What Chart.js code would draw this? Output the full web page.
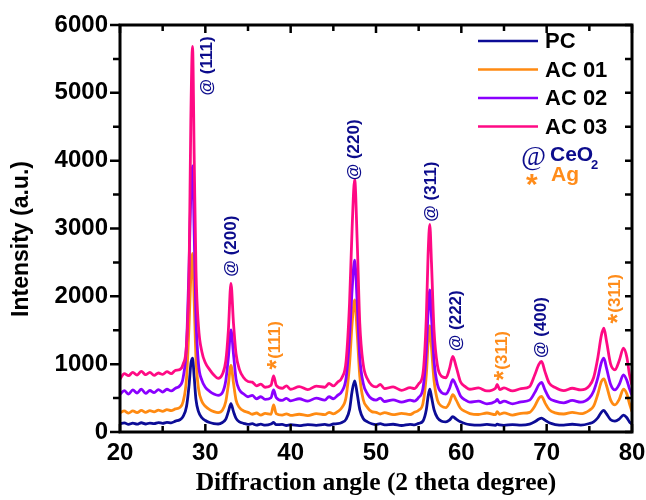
<!DOCTYPE html>
<html>
<head>
<meta charset="utf-8">
<script src="https://cdn.jsdelivr.net/npm/chart.js@4.4.1/dist/chart.umd.min.js"></script>
<style>
  body { margin: 0; background: #fff; }
  canvas { display: block; }
</style>
</head>
<body>
<canvas id="xrd" width="646" height="500"></canvas>
<script>
// 2 theta positions (degree)
const twoTheta = [
  20, 20.5, 21, 21.5, 22, 22.5, 23, 23.5, 24, 24.5,
  25, 25.5, 26, 26.5, 27, 27.4, 27.8, 28.1, 28.3, 28.5,
  28.7, 28.9, 29.2, 29.6, 30, 30.5, 31, 31.5, 32, 32.4,
  32.7, 33, 33.3, 33.6, 34, 34.5, 35, 35.5, 36, 36.5,
  37, 37.7, 38, 38.3, 39, 39.5, 40, 41, 42, 43,
  44, 44.5, 45, 45.5, 46, 46.5, 46.9, 47.2, 47.5, 47.8,
  48.1, 48.5, 49, 49.5, 50, 50.5, 51, 52, 53, 54,
  54.5, 55, 55.5, 55.9, 56.1, 56.3, 56.5, 56.8, 57.2, 57.7,
  58.2, 58.6, 59, 59.4, 59.9, 60.5, 61, 62, 63, 64,
  64.2, 64.5, 65, 66, 67, 68, 68.6, 69.1, 69.4, 69.8,
  70.3, 71, 72, 73, 74, 75, 75.5, 76, 76.4, 76.7,
  77, 77.5, 78, 78.5, 79, 79.4, 79.7, 80
];

const pcData = [
  120, 135, 112, 130, 115, 136, 118, 132, 122, 138,
  128, 142, 135, 160, 180, 230, 380, 700, 1000, 1088,
  800, 480, 300, 210, 170, 140, 125, 118, 140, 190,
  300, 417, 300, 200, 150, 128, 112, 122, 102, 115,
  100, 118, 140, 108, 112, 96, 108, 94, 110, 98,
  112, 100, 118, 122, 140, 190, 330, 600, 755, 560,
  330, 200, 150, 122, 110, 122, 104, 114, 96, 112,
  104, 128, 160, 330, 520, 632, 520, 330, 210, 160,
  150, 175, 225, 190, 150, 122, 110, 100, 112, 98,
  115, 104, 98, 110, 100, 116, 150, 190, 205, 175,
  135, 110, 100, 114, 102, 125, 150, 210, 290, 318,
  270, 180, 160, 190, 250, 210, 150, 115
];

const ac01Data = [
  280, 310, 278, 312, 285, 318, 290, 315, 298, 322,
  305, 330, 315, 340, 360, 450, 800, 1600, 2300, 2632,
  1900, 1100, 640, 450, 380, 330, 300, 285, 320, 450,
  700, 980, 720, 470, 360, 310, 290, 262, 280, 250,
  275, 262, 400, 272, 250, 268, 245, 262, 242, 270,
  255, 290, 268, 300, 360, 520, 1000, 1600, 1946, 1450,
  820, 480, 360, 300, 290, 265, 285, 255, 275, 258,
  290, 320, 420, 850, 1300, 1564, 1250, 760, 470, 380,
  360, 430, 549, 470, 350, 300, 272, 258, 280, 255,
  300, 262, 282, 250, 275, 290, 380, 500, 525, 430,
  330, 282, 265, 290, 270, 320, 380, 560, 740, 784,
  690, 470, 400, 480, 632, 560, 420, 300
];

const ac02Data = [
  555, 610, 560, 620, 575, 630, 570, 612, 580, 625,
  590, 630, 605, 645, 680, 800, 1300, 2500, 3500, 3922,
  2900, 1700, 1000, 760, 660, 600, 560, 540, 580, 760,
  1100, 1505, 1150, 780, 620, 560, 520, 540, 490, 520,
  480, 505, 620, 510, 465, 495, 460, 490, 455, 500,
  470, 520, 490, 540, 600, 800, 1400, 2100, 2534, 1900,
  1100, 720, 560, 490, 470, 500, 450, 475, 440, 470,
  455, 510, 640, 1200, 1750, 2093, 1700, 1050, 700, 580,
  560, 640, 770, 680, 530, 470, 440, 455, 415, 450,
  480, 430, 455, 415, 445, 470, 580, 700, 730, 620,
  500, 455, 430, 465, 440, 500, 600, 800, 1020, 1088,
  950, 700, 620, 700, 843, 760, 640, 540
];

const ac03Data = [
  780, 860, 830, 880, 840, 895, 845, 880, 835, 870,
  850, 890, 860, 910, 920, 1000, 1300, 2400, 4600, 5686,
  4000, 2400, 1550, 1180, 1020, 920, 840, 790, 850, 1050,
  1500, 2191, 1600, 1150, 920, 800, 745, 735, 680, 705,
  660, 690, 828, 690, 645, 680, 630, 670, 625, 675,
  660, 715, 680, 735, 800, 1050, 1900, 3000, 3725, 2800,
  1600, 1000, 780, 690, 665, 700, 640, 665, 615, 655,
  640, 710, 860, 1700, 2600, 3059, 2500, 1500, 980, 820,
  800, 930, 1113, 960, 740, 665, 630, 650, 605, 645,
  700, 625, 650, 605, 640, 670, 840, 1000, 1039, 890,
  720, 655, 610, 645, 620, 680, 800, 1100, 1420, 1530,
  1350, 1000, 917, 1050, 1235, 1100, 850, 690
];

const seriesNames = ["PC", "AC 01", "AC 02", "AC 03"];
const seriesColors = ["#0c0c96", "#ff8a12", "#8a00ff", "#ff0a84"];

// peak annotations: hkl, 2theta, intensity where the text starts, phase
const peakText = ["(111)", "(200)", "(111)", "(220)", "(311)", "(222)", "(311)", "(400)", "(311)"];
const peakAngle = [30.2, 33.1, 38.2, 47.5, 56.5, 59.4, 64.8, 69.35, 78.1];
const peakBase = [4960, 2290, 920, 3710, 3100, 1190, 760, 1090, 1600];
const peakPhase = ["CeO2", "CeO2", "Ag", "CeO2", "CeO2", "CeO2", "Ag", "CeO2", "Ag"];

const NAVY = "#0c0c8c";
const ORANGE = "#ff8c1a";
const sans = "'Liberation Sans', Arial, sans-serif";

const allSeries = [pcData, ac01Data, ac02Data, ac03Data];
const datasets = seriesNames.map((name, i) => ({
  label: name,
  data: twoTheta.map((t, j) => ({ x: t, y: allSeries[i][j] })),
  borderColor: seriesColors[i],
  borderWidth: 2.8,
  pointRadius: 0,
  cubicInterpolationMode: "monotone",
  order: 3 - i,
}));

// frame, minor/major ticks, y title, legend and peak labels
const decorations = {
  id: "decorations",
  afterDraw(chart) {
    const { ctx, chartArea: a, scales: { x, y } } = chart;
    ctx.save();
    ctx.strokeStyle = "#000";
    ctx.lineWidth = 3;
    ctx.strokeRect(a.left, a.top, a.right - a.left, a.bottom - a.top);

    ctx.lineWidth = 2.5;
    for (let v = 20; v <= 80; v += 5) {
      const px = x.getPixelForValue(v);
      const len = v % 10 === 0 ? 8 : 6;
      ctx.beginPath();
      ctx.moveTo(px, a.bottom); ctx.lineTo(px, a.bottom - len);
      ctx.moveTo(px, a.top); ctx.lineTo(px, a.top + len);
      ctx.stroke();
    }
    for (let v = 0; v <= 6000; v += 500) {
      const py = y.getPixelForValue(v);
      const len = v % 1000 === 0 ? 10 : 7;
      ctx.beginPath();
      ctx.moveTo(a.left, py); ctx.lineTo(a.left - len, py);
      ctx.moveTo(a.right, py); ctx.lineTo(a.right - 7, py);
      ctx.stroke();
    }

    // y axis title
    ctx.save();
    ctx.translate(22, 239);
    ctx.rotate(-Math.PI / 2);
    ctx.fillStyle = "#000";
    ctx.font = "bold 23px " + sans;
    ctx.textAlign = "center";
    ctx.textBaseline = "middle";
    ctx.fillText("Intensity (a.u.)", 0, 0);
    ctx.restore();

    // legend
    ctx.font = "bold 22px " + sans;
    ctx.textBaseline = "middle";
    chart.data.datasets.forEach((ds, i) => {
      const ly = 41 + i * 28.5;
      ctx.strokeStyle = ds.borderColor;
      ctx.lineWidth = 2.5;
      ctx.beginPath();
      ctx.moveTo(478, ly); ctx.lineTo(538, ly);
      ctx.stroke();
      ctx.fillStyle = "#000";
      ctx.fillText(ds.label, 545, ly + 1);
    });

    // phase key
    ctx.fillStyle = NAVY;
    ctx.font = "italic 27px 'Liberation Serif', serif";
    ctx.fillText("@", 521, 158);
    ctx.font = "bold 21px " + sans;
    ctx.fillText("CeO", 550, 155);
    ctx.font = "bold 13px " + sans;
    ctx.fillText("2", 591, 165);
    ctx.fillStyle = ORANGE;
    ctx.textBaseline = "alphabetic";
    ctx.font = "bold 30px " + sans;
    ctx.fillText("*", 526, 194);
    ctx.font = "bold 21px " + sans;
    ctx.fillText("Ag", 551, 181);

    // peak labels (vertical, reading upward)
    peakText.forEach((t, i) => {
      const px = x.getPixelForValue(peakAngle[i]);
      const py = y.getPixelForValue(peakBase[i]);
      const ag = peakPhase[i] === "Ag";
      ctx.save();
      ctx.translate(px, py);
      ctx.rotate(-Math.PI / 2);
      ctx.fillStyle = ag ? ORANGE : NAVY;
      let off;
      if (ag) {
        ctx.textBaseline = "alphabetic";
        ctx.font = "bold 25px " + sans;
        ctx.fillText("*", 0, 10);
        off = ctx.measureText("*").width + 1;
      } else {
        ctx.textBaseline = "middle";
        ctx.font = "bold 17px " + sans;
        ctx.fillText("@", 0, 0);
        off = ctx.measureText("@ ").width;
      }
      ctx.textBaseline = "middle";
      ctx.font = "bold 17px " + sans;
      ctx.fillText(t, off, 0);
      ctx.restore();
    });
    ctx.restore();
  }
};

new Chart(document.getElementById("xrd"), {
  type: "line",
  data: { datasets },
  options: {
    responsive: false,
    animation: false,
    devicePixelRatio: 1,
    layout: { padding: { top: 25, right: 14, left: 0, bottom: 0 } },
    plugins: { legend: { display: false }, tooltip: { enabled: false } },
    scales: {
      x: {
        type: "linear",
        min: 20,
        max: 80,
        grid: { display: false, drawTicks: false },
        border: { display: false },
        ticks: {
          stepSize: 10,
          padding: 7,
          color: "#000",
          font: { family: sans, size: 24, weight: "bold" },
          maxRotation: 0,
          callback: (v) => String(v),
        },
        title: {
          display: true,
          text: "Diffraction angle (2 theta degree)",
          color: "#000",
          padding: { top: 0, bottom: 1 },
          font: { family: "'Liberation Serif', 'Times New Roman', serif", size: 25.5, weight: "bold" },
        },
        afterFit: (s) => { s.height = 68; s.paddingLeft = 0; s.paddingRight = 0; },
      },
      y: {
        min: 0,
        max: 6000,
        grid: { display: false, drawTicks: false },
        border: { display: false },
        ticks: {
          stepSize: 1000,
          padding: 12,
          color: "#000",
          font: { family: sans, size: 24, weight: "bold" },
          callback: (v) => String(v),
        },
        afterFit: (s) => { s.width = 120; s.paddingTop = 0; s.paddingBottom = 0; },
      },
    },
  },
  plugins: [decorations],
});
</script>
</body>
</html>
